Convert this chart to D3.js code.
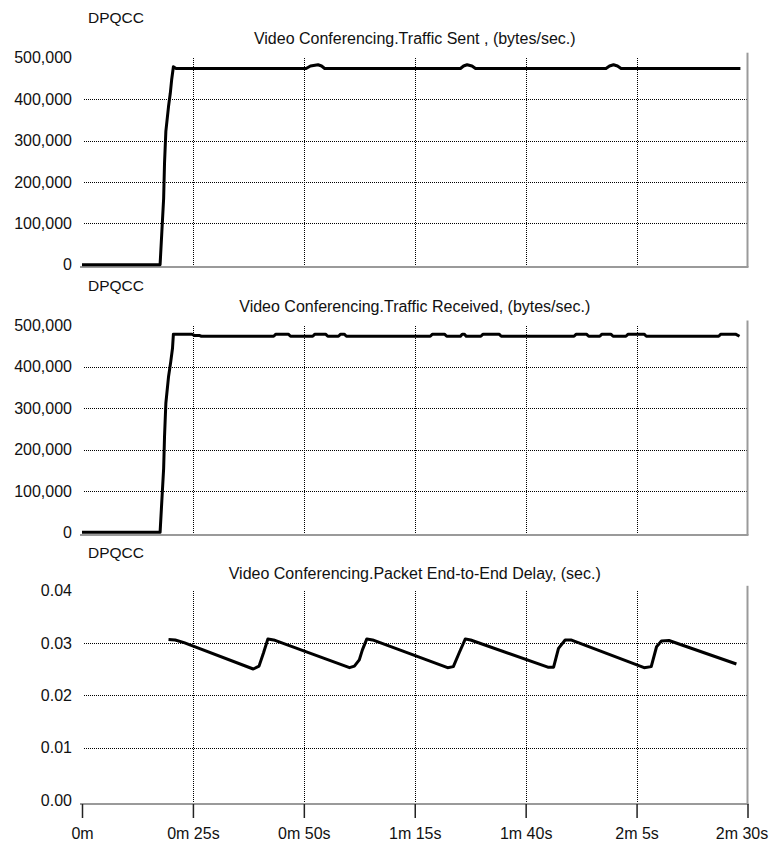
<!DOCTYPE html>
<html><head><meta charset="utf-8">
<script src="https://cdn.jsdelivr.net/npm/d3@7"></script>
<style>
html,body{margin:0;padding:0;background:#fff;}
svg{display:block;font-family:"Liberation Sans",Arial,sans-serif;}
</style></head>
<body><svg id="c" width="771" height="845"></svg>
<script>
// ---- data ----
const xTickSeconds = [0, 25, 50, 75, 100, 125, 150];
const xTickLabels = ["0m", "0m 25s", "0m 50s", "1m 15s", "1m 40s", "2m 5s", "2m 30s"];

const sourceLabel = "DPQCC";
const panelTitles = [
  "Video Conferencing.Traffic Sent , (bytes/sec.)",
  "Video Conferencing.Traffic Received, (bytes/sec.)",
  "Video Conferencing.Packet End-to-End Delay, (sec.)"
];

const bytesTicks = [0, 100000, 200000, 300000, 400000, 500000];
const delayTicks = [0, 0.01, 0.02, 0.03, 0.04];

// Traffic Sent (bytes/sec) : time (s), value
const sentTime  = [0, 17.6, 18.0, 18.4, 18.6, 18.9, 19.5, 19.9, 20.2, 20.6, 21.2, 50.5, 51.5, 53.2, 54.0, 54.7, 85.3, 86.0, 86.8, 87.9, 88.7, 118.1, 118.9, 119.8, 120.7, 121.5, 148.4];
const sentValue = [0, 0, 80000, 160000, 245000, 322000, 382000, 414000, 446000, 478000, 474000, 474000, 480000, 483000, 480000, 474000, 474000, 480000, 483000, 480000, 474000, 474000, 480000, 483000, 480000, 474000, 474000];

// Traffic Received (bytes/sec)
const recvTime  = [0, 17.6, 18.0, 18.4, 18.6, 18.9, 19.5, 20.0, 20.4, 20.6, 24.8, 25.3, 26.4, 26.9, 43.2, 43.7, 46.5, 47.0, 52.0, 52.5, 54.9, 55.4, 57.8, 58.3, 59.1, 59.6, 78.5, 79.0, 81.7, 82.2, 85.3, 85.7, 86.2, 86.6, 89.9, 90.4, 94.0, 94.5, 110.9, 111.4, 113.7, 114.2, 116.7, 117.2, 119.2, 119.7, 122.6, 123.1, 126.7, 127.2, 143.5, 144.0, 147.3, 148.2];
const recvValue = [0, 0, 77000, 154000, 231000, 312000, 376000, 412000, 445000, 479000, 479000, 476000, 476000, 474000, 474000, 479000, 479000, 474000, 474000, 479000, 479000, 474000, 474000, 479000, 479000, 474000, 474000, 479000, 479000, 474000, 474000, 479000, 479000, 474000, 474000, 479000, 479000, 474000, 474000, 479000, 479000, 474000, 474000, 479000, 479000, 474000, 474000, 479000, 479000, 474000, 474000, 479000, 479000, 474000];

// Packet End-to-End Delay (sec)
const delayTime  = [19.5, 21.0, 23.0, 38.6, 39.9, 40.9, 41.9, 43.2, 60.3, 61.4, 62.5, 63.2, 64.2, 65.5, 82.4, 83.7, 85.0, 86.4, 87.6, 105.0, 106.3, 107.4, 108.9, 110.2, 126.7, 128.3, 129.5, 130.6, 132.3, 147.5];
const delayValue = [0.0307, 0.0306, 0.0301, 0.02505, 0.0256, 0.0281, 0.0308, 0.0306, 0.0253, 0.0256, 0.0268, 0.0287, 0.0308, 0.0306, 0.0253, 0.0255, 0.0281, 0.0308, 0.0306, 0.0254, 0.0254, 0.0290, 0.0306, 0.0306, 0.0253, 0.0255, 0.0293, 0.0304, 0.0305, 0.0260];

// ---- layout ----
const svg = d3.select("#c");
const X0 = 82, X1 = 747.5;
const x = d3.scaleLinear().domain([0, 150]).range([X0, X1]);
const gridX = xTickSeconds.filter(s => s > 0 && s < 150);

const panels = [
  {time: sentTime, value: sentValue, ticks: bytesTicks, max: 500000, fmt: d3.format(","), yTop: 57.7, yBot: 264.7, axisY: 267, title: panelTitles[0], srcY: 23, titleY: 44},
  {time: recvTime, value: recvValue, ticks: bytesTicks, max: 500000, fmt: d3.format(","), yTop: 325.5, yBot: 532.3, axisY: 535, title: panelTitles[1], srcY: 291, titleY: 312},
  {time: delayTime, value: delayValue, ticks: delayTicks, max: 0.04, fmt: d3.format(".2f"), yTop: 590.8, yBot: 800, axisY: 804, title: panelTitles[2], srcY: 558, titleY: 579}
];

panels.forEach((p, i) => {
  const y = d3.scaleLinear().domain([0, p.max]).range([p.yBot, p.yTop]);
  const g = svg.append("g");

  // source + title
  g.append("text").attr("x", 88).attr("y", p.srcY).attr("font-size", 15.5).attr("fill", "#111").text(sourceLabel);
  g.append("text").attr("x", (X0 + X1) / 2).attr("y", p.titleY).attr("text-anchor", "middle").attr("font-size", 16).attr("fill", "#111").text(p.title);

  // horizontal dotted gridlines
  g.selectAll("line.hg").data(p.ticks.filter(v => v > 0 && v < p.max)).join("line")
    .attr("x1", 84).attr("x2", X1 - 1)
    .attr("y1", d => Math.round(y(d)) + 0.5).attr("y2", d => Math.round(y(d)) + 0.5)
    .attr("stroke", "#000").attr("stroke-width", 1).attr("stroke-dasharray", "1,1")
    .attr("shape-rendering", "crispEdges");

  // vertical dotted gridlines
  g.selectAll("line.vg").data(gridX).join("line")
    .attr("x1", d => Math.round(x(d)) + 0.5).attr("x2", d => Math.round(x(d)) + 0.5)
    .attr("y1", y(p.max)).attr("y2", p.axisY)
    .attr("stroke", "#000").attr("stroke-width", 1).attr("stroke-dasharray", "1,1")
    .attr("shape-rendering", "crispEdges");

  // y axis labels
  const ya = g.append("g").attr("transform", `translate(${X0},0)`)
    .call(d3.axisLeft(y).tickValues(p.ticks).tickFormat(p.fmt).tickSize(0).tickPadding(10));
  ya.select(".domain").remove();
  ya.selectAll("text").attr("font-size", 16).attr("fill", "#111").attr("font-family", "Liberation Sans, Arial, sans-serif");

  // bottom axis line and right border (gray)
  g.append("line").attr("x1", 80).attr("x2", X1 + 1).attr("y1", p.axisY).attr("y2", p.axisY)
    .attr("stroke", "#9a9a9a").attr("stroke-width", 2);
  g.append("line").attr("x1", X1).attr("x2", X1).attr("y1", y(p.max) - 5).attr("y2", p.axisY)
    .attr("stroke", "#9a9a9a").attr("stroke-width", 2);

  // data line
  const pts = p.time.map((t, k) => [t, p.value[k]]);
  g.append("path").datum(pts)
    .attr("d", d3.line().x(d => x(d[0])).y(d => y(d[1])))
    .attr("fill", "none").attr("stroke", "#000").attr("stroke-width", 3)
    .attr("stroke-linejoin", "round");

  // x axis on the last panel
  if (i === panels.length - 1) {
    const xa = g.append("g").attr("transform", `translate(0,${p.axisY})`)
      .call(d3.axisBottom(x).tickValues(xTickSeconds).tickFormat((d, k) => xTickLabels[k]).tickSize(14).tickPadding(10));
    xa.select(".domain").remove();
    xa.selectAll(".tick line").attr("stroke", "#222").attr("stroke-width", 1.5);
    xa.selectAll("text").attr("font-size", 16).attr("fill", "#111").attr("font-family", "Liberation Sans, Arial, sans-serif");
    xa.selectAll(".tick").filter(d => d === 150).select("text").attr("dx", -6);
  }
});
</script>
</body></html>
